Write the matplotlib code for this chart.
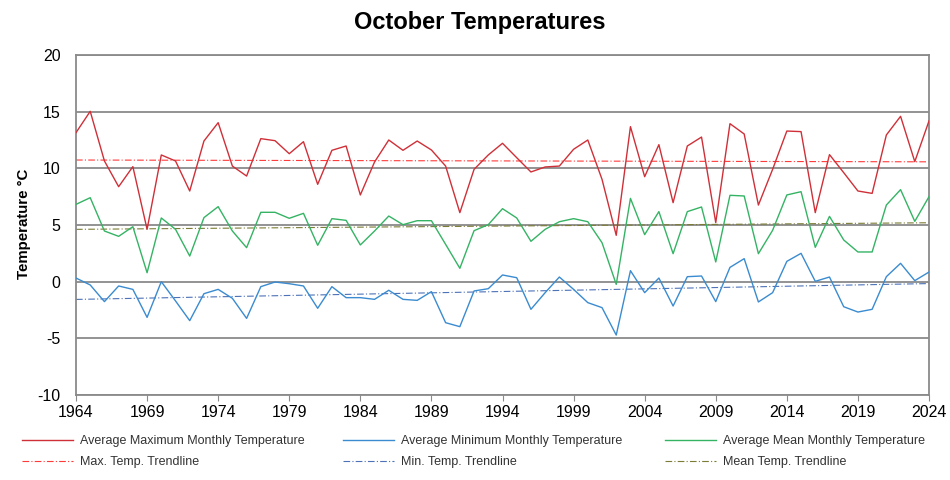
import numpy as np
import matplotlib
matplotlib.use("Agg")
import matplotlib.pyplot as plt

plt.rcParams['font.family'] = ['Liberation Sans', 'DejaVu Sans']
plt.rcParams['axes.unicode_minus'] = False

years = list(range(1964, 2025))

max_temp = [13.15, 15.03, 10.65, 8.38, 10.15, 4.62, 11.18, 10.65, 8.0, 12.41,
            14.03, 10.2, 9.32, 12.62, 12.44, 11.29, 12.35, 8.59, 11.59, 11.97,
            7.65, 10.56, 12.5, 11.59, 12.41, 11.62, 10.2, 6.09, 9.91, 11.18,
            12.21, 10.94, 9.68, 10.12, 10.2, 11.68, 12.5, 9.03, 4.09, 13.68,
            9.26, 12.09, 6.97, 11.97, 12.76, 5.21, 13.94, 13.03, 6.76, 9.91,
            13.29, 13.24, 6.09, 11.21, 9.62, 8.0, 7.79, 12.94, 14.59, 10.59,
            14.18]

mean_temp = [6.82, 7.41, 4.47, 4.0, 4.85, 0.79, 5.62, 4.62, 2.26, 5.65,
             6.62, 4.47, 3.0, 6.12, 6.12, 5.59, 6.03, 3.21, 5.56, 5.41,
             3.24, 4.47, 5.79, 5.03, 5.38, 5.38, 3.29, 1.18, 4.5, 5.03,
             6.44, 5.62, 3.56, 4.62, 5.29, 5.56, 5.29, 3.44, -0.24, 7.35,
             4.15, 6.18, 2.47, 6.18, 6.59, 1.74, 7.62, 7.56, 2.47, 4.53,
             7.65, 7.94, 3.03, 5.76, 3.68, 2.62, 2.62, 6.76, 8.12, 5.32,
             7.5]

min_temp = [0.32, -0.29, -1.76, -0.38, -0.68, -3.15, 0.0, -1.7, -3.44, -1.06,
            -0.68, -1.47, -3.24, -0.44, -0.03, -0.18, -0.38, -2.35, -0.44, -1.41,
            -1.41, -1.56, -0.76, -1.56, -1.65, -0.88, -3.62, -3.97, -0.82, -0.62,
            0.59, 0.35, -2.44, -0.97, 0.41, -0.68, -1.85, -2.29, -4.71, 0.97,
            -0.97, 0.32, -2.15, 0.44, 0.5, -1.76, 1.26, 2.03, -1.79, -0.97,
            1.79, 2.5, 0.03, 0.41, -2.21, -2.68, -2.44, 0.44, 1.62, 0.09,
            0.85]

x_ticks = list(range(1964, 2025, 5))
y_ticks = [-10, -5, 0, 5, 10, 15, 20]

c_max, c_min, c_mean = '#cf3038', '#3a8bd0', '#35b364'
c_max_t, c_min_t, c_mean_t = '#ff3a3a', '#4d72b8', '#7c7c36'
grid_c = '#8a8a8a'

fig = plt.figure(figsize=(9.5, 4.8), dpi=100)
ax = fig.add_axes([76/950, 1-395/480, (929-76)/950, (395-55)/480])

x = np.array(years, dtype=float)

def trend(y):
    k, b = np.polyfit(x, np.array(y, dtype=float), 1)
    return k * x + b

for yv in y_ticks:
    ax.axhline(yv, color=grid_c, lw=1.3, zorder=1)

l_max, = ax.plot(years, max_temp, color=c_max, lw=1.0, zorder=3,
                 label='Average Maximum Monthly Temperature')
l_min, = ax.plot(years, min_temp, color=c_min, lw=1.0, zorder=3,
                 label='Average Minimum Monthly Temperature')
l_mean, = ax.plot(years, mean_temp, color=c_mean, lw=1.0, zorder=3,
                  label='Average Mean Monthly Temperature')
t_max, = ax.plot(years, trend(max_temp), color=c_max_t, lw=0.8, ls=(0, (6, 2, 1, 2)),
                 zorder=2, label='Max. Temp. Trendline')
t_min, = ax.plot(years, trend(min_temp), color=c_min_t, lw=0.8, ls=(0, (6, 2, 1, 2)),
                 zorder=2, label='Min. Temp. Trendline')
t_mean, = ax.plot(years, trend(mean_temp), color=c_mean_t, lw=0.8, ls=(0, (6, 2, 1, 2)),
                  zorder=2, label='Mean Temp. Trendline')

ax.set_xlim(1964, 2024)
ax.set_ylim(-10, 20)
ax.set_xticks(x_ticks)
ax.set_yticks(y_ticks)
ax.tick_params(axis='x', direction='out', length=4, color=grid_c, labelsize=11.5, pad=3)
ax.tick_params(axis='y', length=0, labelsize=11.5, pad=11)
for s in ax.spines.values():
    s.set_color(grid_c)
    s.set_linewidth(1.3)

fig.text(24/950, 1-224/480, 'Temperature °C', rotation=90, ha='center', va='center',
         fontsize=10.8, fontweight='bold')
fig.text(480/950, 1-22/480, 'October Temperatures', ha='center', va='center',
         fontsize=17, fontweight='bold')

leg_kw = dict(frameon=False, fontsize=9, handlelength=4.1, handletextpad=0.55,
              labelspacing=0.75, borderpad=0, borderaxespad=0)
for handles, xpos in [((l_max, t_max), 22), ((l_min, t_min), 343), ((l_mean, t_mean), 665)]:
    lg = fig.legend(handles=list(handles), loc='upper left',
                    bbox_to_anchor=(xpos/950, 1-435/480), **leg_kw)
    for t in lg.get_texts():
        t.set_color('#333333')

fig.savefig('out.png', dpi=100)
